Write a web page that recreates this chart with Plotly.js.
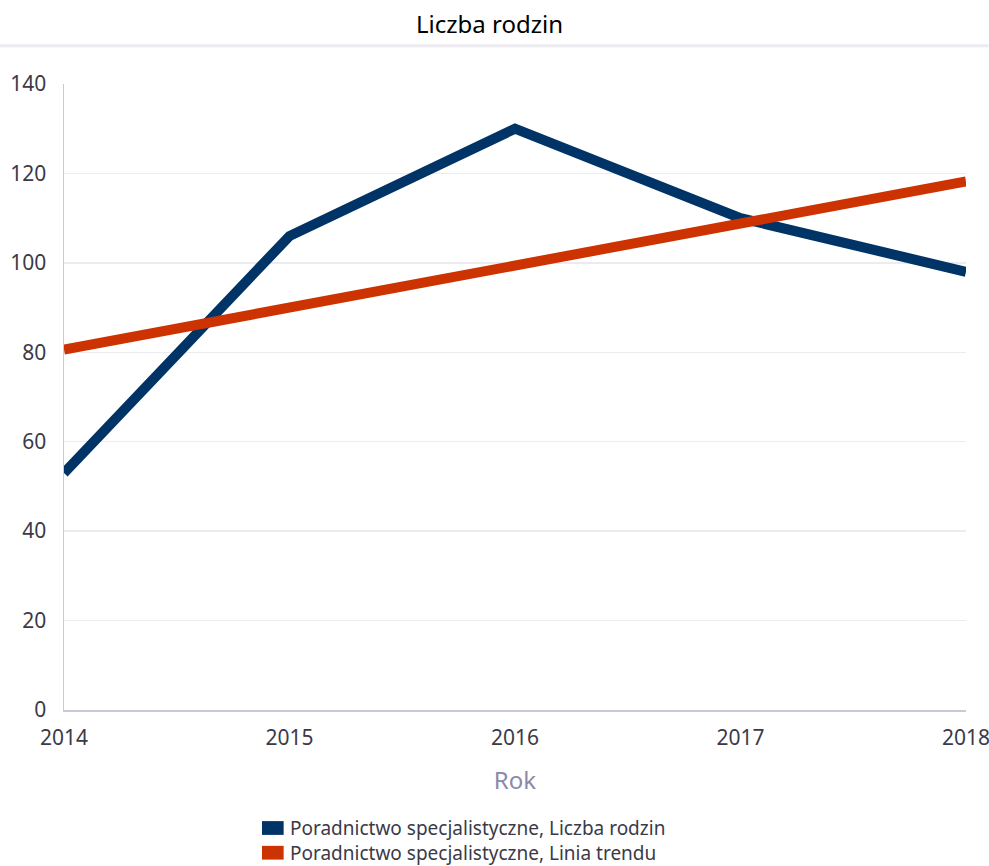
<!DOCTYPE html>
<html><head><meta charset="utf-8">
<script src="https://cdn.plot.ly/plotly-3.0.1.min.js"></script>
<style>html,body{margin:0;padding:0;background:#fff}#chart{width:989px;height:866px}</style>
</head><body><div id="chart"></div>
<script>
const years = [2014, 2015, 2016, 2017, 2018];
const liczbaRodzin = [53, 106, 130, 110, 98];
const liniaTrendu = [80.6, 90.0, 99.4, 108.8, 118.2];
const seriesNames = ["Poradnictwo specjalistyczne, Liczba rodzin", "Poradnictwo specjalistyczne, Linia trendu"];
const colors = ["#003366", "#cc3300"];
const yTicks = [0, 20, 40, 60, 80, 100, 120, 140];

const font = "Noto Sans, Open Sans, sans-serif";
const traces = [
  {x: years, y: liczbaRodzin, mode: "lines", name: seriesNames[0], line: {color: colors[0], width: 10}, showlegend: false},
  {x: years, y: liniaTrendu, mode: "lines", name: seriesNames[1], line: {color: colors[1], width: 10}, showlegend: false}
];
const legendY0 = -0.1885;
const legendStep = 0.0395;
const shapes = [
  {type: "line", xref: "paper", yref: "paper", x0: -0.071, x1: 1.025, y0: 1.0613, y1: 1.0613, line: {color: "#ebebf0", width: 3}}
];
seriesNames.forEach((n, i) => {
  const yy = legendY0 - i * legendStep;
  shapes.push({type: "rect", xref: "paper", yref: "paper", x0: 0.2195, x1: 0.2435, y0: yy - 0.011, y1: yy + 0.011, fillcolor: colors[i], line: {width: 0}});
});
const annotations = [{
  xref: "paper", yref: "paper", x: 0.2483, y: legendY0 - legendStep / 2, xanchor: "left", yanchor: "middle", align: "left",
  showarrow: false, text: seriesNames.join("<br>"), font: {family: font, size: 19, color: "#3a3a48"}
}];
const layout = {
  width: 989, height: 866,
  margin: {l: 64, r: 23, t: 84, b: 156},
  paper_bgcolor: "#fff", plot_bgcolor: "#fff",
  title: {text: "Liczba rodzin", x: 0.495, xanchor: "center", y: 0.972, yanchor: "middle", font: {family: font, size: 24, color: "#000"}},
  xaxis: {
    range: [2014, 2018], tickvals: years, ticktext: years.map(String),
    showgrid: false, zeroline: false, showline: true, linecolor: "#c8c8d8", linewidth: 1.5,
    tickfont: {family: font, size: 21, color: "#3a3a48"}, ticks: "", ticklabelstandoff: 8,
    ticklabeloverflow: "allow",
    title: {text: "Rok", font: {family: font, size: 24, color: "#8a8aa8"}, standoff: 22}
  },
  yaxis: {
    range: [0, 140], tickvals: yTicks, showgrid: true, gridcolor: "#ebebf0", gridwidth: 1.5,
    zeroline: false, showline: true, linecolor: "#c8c8d8", linewidth: 1.5,
    tickfont: {family: font, size: 21, color: "#3a3a48"}, ticks: "", ticklabelstandoff: 12
  },
  shapes: shapes, annotations: annotations, showlegend: false
};
Plotly.newPlot("chart", traces, layout, {displayModeBar: false, staticPlot: true});
</script></body></html>
